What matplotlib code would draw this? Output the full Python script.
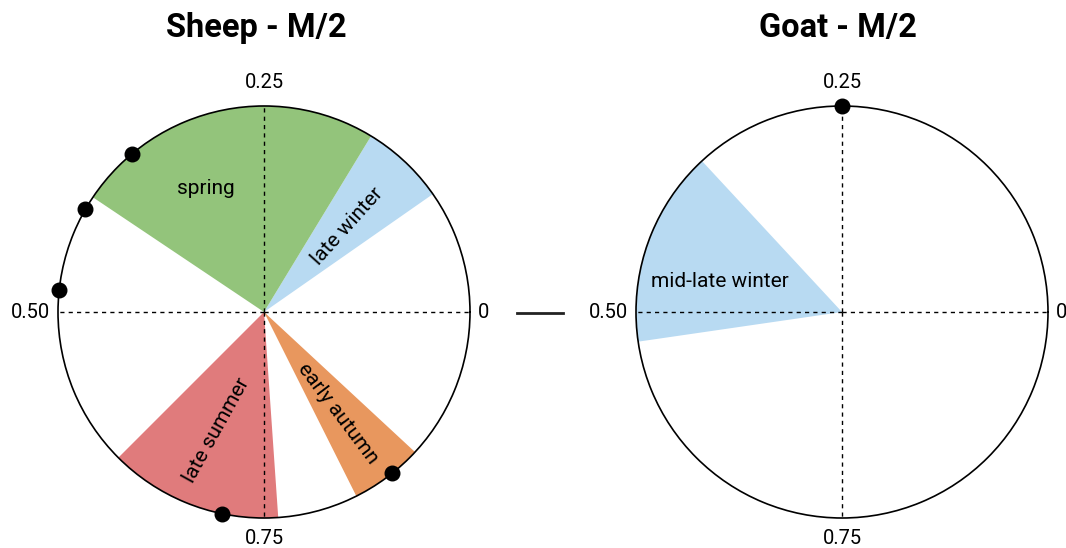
import numpy as np
import matplotlib
matplotlib.use("Agg")
import matplotlib.pyplot as plt
from matplotlib.lines import Line2D

plt.rcParams['font.family'] = ['Roboto', 'DejaVu Sans']

# fractions of the year, 0 = east, counter-clockwise
tick_pos = [0, 0.25, 0.5, 0.75]
tick_labels = ["0", "0.25", "0.50", "0.75"]

sheep_title = "Sheep - M/2"
sheep_seasons = ["late winter", "spring", "late summer", "early autumn"]
sheep_start = [0.097, 0.163, 0.625, 0.824]
sheep_end = [0.163, 0.406, 0.761, 0.881]
sheep_colors = ["#B8DAF2", "#93C47B", "#E07B7C", "#E8975E"]
sheep_points = [0.361, 0.417, 0.483, 0.717, 0.857]
# label placement: (theta fraction, radius, rotation)
sheep_label_pos = [(0.127, 0.58, 48), (0.32, 0.66, 0), (0.689, 0.62, 61), (0.85, 0.61, -53)]

goat_title = "Goat - M/2"
goat_seasons = ["mid-late winter"]
goat_start = [0.369]
goat_end = [0.523]
goat_colors = ["#B8DAF2"]
goat_points = [0.25]
goat_label_pos = [(0.461, 0.61, 0)]

fig = plt.figure(figsize=(10.66, 5.48), dpi=100)

# offsets (points) and alignment of the four tick labels around the circle
tick_offsets = [((6, 0), "left", "center"), ((0, 10), "center", "bottom"),
                ((-6, 0), "right", "center"), ((0, -8), "center", "top")]

def circ_panel(rect, title, title_x, seasons, start, end, colors, points, label_pos):
    ax = fig.add_axes(rect, projection="polar")
    start = np.array(start)
    end = np.array(end)
    ax.bar(2 * np.pi * start, 1, width=2 * np.pi * (end - start), bottom=0,
           align="edge", color=colors, edgecolor="none", zorder=1)
    ax.scatter(2 * np.pi * np.array(points), np.ones(len(points)), s=110,
               color="black", clip_on=False, zorder=5)
    for name, (t, r, rot) in zip(seasons, label_pos):
        ax.text(2 * np.pi * t, r, name, rotation=rot, ha="center", va="center",
                fontsize=15, rotation_mode="anchor", zorder=4)
    ax.set_ylim(0, 1)
    ax.set_yticks([])
    ax.set_xticks(2 * np.pi * np.array(tick_pos))
    ax.set_xticklabels([])
    ax.tick_params(axis="x", length=0)
    for t, lab, (off, ha, va) in zip(tick_pos, tick_labels, tick_offsets):
        ax.annotate(lab, xy=(2 * np.pi * t, 1), xytext=off, textcoords="offset points",
                    ha=ha, va=va, fontsize=14.5, annotation_clip=False)
    ax.xaxis.grid(True, color="black", linestyle=(0, (3, 3)), linewidth=1)
    ax.yaxis.grid(False)
    ax.spines["polar"].set_linewidth(1.2)
    ax.spines["polar"].set_color("black")
    ax.set_axisbelow(False)
    fig.text(title_x, 1 - 28 / 548, title, ha="center", va="center",
             fontsize=23.5, fontweight="bold")
    return ax

circ_panel([58 / 1066, 30 / 548, 412 / 1066, 412 / 548], sheep_title, 256 / 1066,
           sheep_seasons, sheep_start, sheep_end, sheep_colors, sheep_points, sheep_label_pos)
circ_panel([636 / 1066, 30 / 548, 412 / 1066, 412 / 548], goat_title, 838 / 1066,
           goat_seasons, goat_start, goat_end, goat_colors, goat_points, goat_label_pos)

# short dash between the two panels
fig.add_artist(Line2D([517 / 1066, 563 / 1066], [1 - 313 / 548, 1 - 313 / 548],
                      color="#222222", linewidth=2, transform=fig.transFigure))

fig.savefig("out.png", dpi=100)
